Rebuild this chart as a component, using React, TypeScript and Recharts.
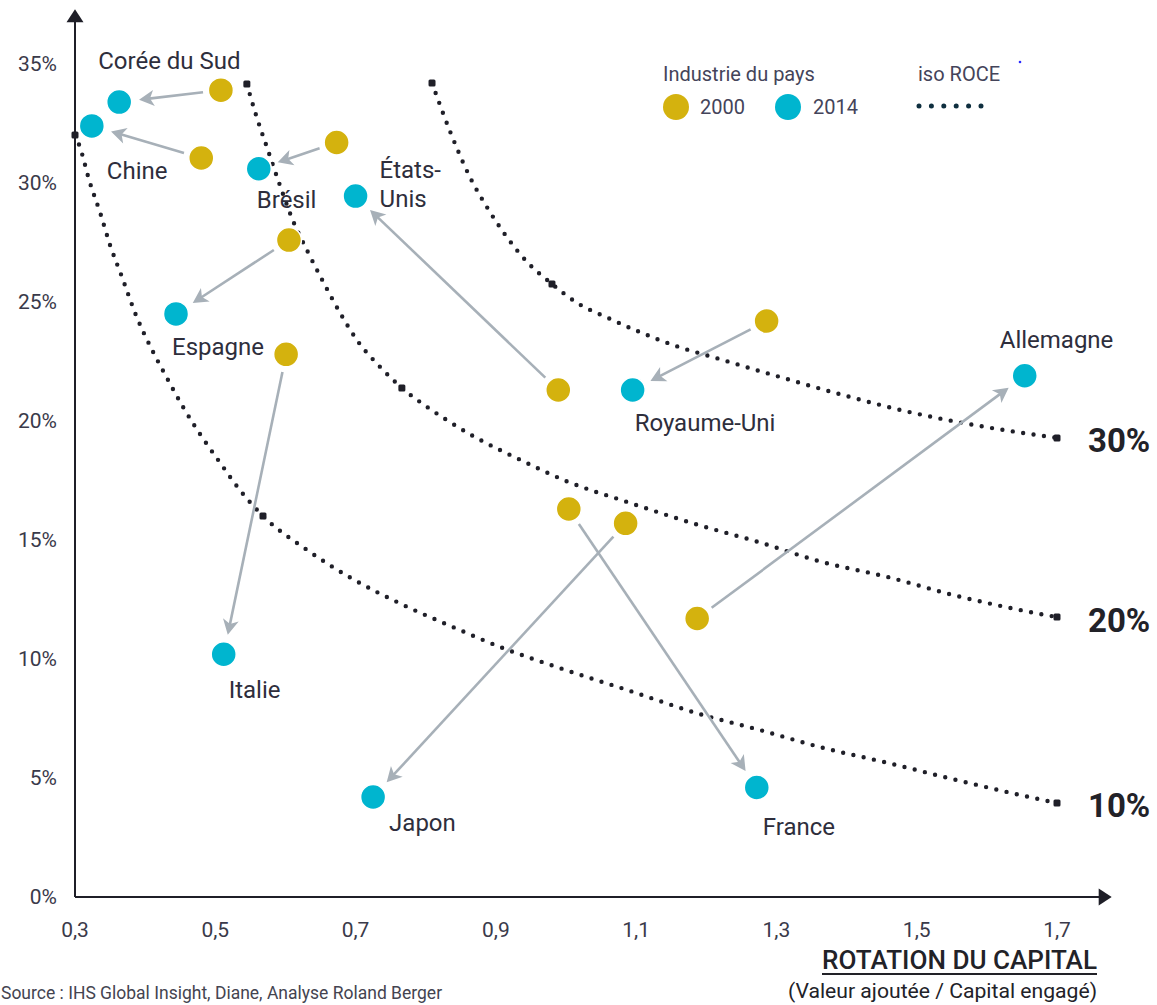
import React from 'react';
import { ComposedChart, XAxis, YAxis, Scatter, Line, ReferenceLine } from 'recharts';

// ---------- data ----------
const countries = ['Corée du Sud', 'Chine', 'Brésil', 'États-Unis', 'Espagne', 'Italie', 'Royaume-Uni', 'Japon', 'France', 'Allemagne'];
const rotation2000 = [0.508, 0.480, 0.673, 0.989, 0.605, 0.601, 1.286, 1.085, 1.004, 1.187];
const margin2000 = [33.9, 31.05, 31.7, 21.3, 27.6, 22.8, 24.2, 15.7, 16.3, 11.7];
const rotation2014 = [0.363, 0.324, 0.562, 0.700, 0.444, 0.512, 1.095, 0.725, 1.272, 1.654];
const margin2014 = [33.4, 32.4, 30.6, 29.45, 24.5, 10.2, 21.3, 4.2, 4.6, 21.9];

const xTicks = [0.3, 0.5, 0.7, 0.9, 1.1, 1.3, 1.5, 1.7];
const yTicks = [0, 5, 10, 15, 20, 25, 30, 35];
const isoLevels = ['10%', '20%', '30%'];

const iso10 = [[0.300, 32.02], [0.307, 31.51], [0.321, 30.04], [0.336, 28.74], [0.350, 27.39], [0.367, 26.05], [0.388, 24.37], [0.410, 22.98], [0.431, 21.81], [0.454, 20.59], [0.481, 19.33], [0.507, 18.24], [0.535, 17.10], [0.568, 16.01], [0.631, 14.58], [0.696, 13.36], [0.768, 12.27], [0.839, 11.34], [0.910, 10.46], [0.987, 9.66], [1.087, 8.70], [1.195, 7.65], [1.276, 7.02], [1.362, 6.30], [1.458, 5.64], [1.552, 4.95], [1.647, 4.29], [1.700, 3.95]];
const iso20 = [[0.545, 34.16], [0.559, 32.77], [0.574, 31.47], [0.589, 30.17], [0.611, 28.4], [0.632, 27.1], [0.654, 25.84], [0.678, 24.54], [0.702, 23.4], [0.735, 22.27], [0.766, 21.39], [0.802, 20.59], [0.830, 20.04], [0.870, 19.33], [0.934, 18.38], [1.000, 17.48], [1.087, 16.6], [1.181, 15.7], [1.276, 14.9], [1.362, 14.1], [1.458, 13.45], [1.552, 12.69], [1.647, 12.06], [1.700, 11.76]];
const iso30 = [[0.809, 34.2], [0.837, 32.0], [0.863, 30.25], [0.887, 29.0], [0.914, 27.8], [0.944, 26.7], [0.980, 25.76], [1.016, 24.96], [1.060, 24.33], [1.105, 23.74], [1.162, 23.1], [1.209, 22.69], [1.305, 21.85], [1.400, 21.05], [1.495, 20.34], [1.590, 19.79], [1.700, 19.29]];
const isoAnchors = [[0.300, 32.02], [0.568, 16.01], [1.700, 3.95], [0.545, 34.16], [0.766, 21.39], [1.700, 11.76], [0.809, 34.2], [0.980, 25.76], [1.700, 19.29]];

// ---------- derived tables ----------
const pts2000 = countries.map((name, i) => ({ name, x: rotation2000[i], y: margin2000[i] }));
const pts2014 = countries.map((name, i) => ({ name, x: rotation2014[i], y: margin2014[i] }));
const toXY = (arr: number[][]) => arr.map(([x, y]) => ({ x, y }));
const isoSeries = [iso10, iso20, iso30].map(toXY);
const anchorPts = toXY(isoAnchors);
const isoEnds = isoSeries.map((s, i) => ({ ...s[s.length - 1], level: isoLevels[i] }));

// ---------- styles ----------
const GOLD = '#d4b20e';
const CYAN = '#00b5cf';
const ARROW = '#a7b0b8';
const INK = '#1f1f28';
const TEXT = '#2e2e3c';
const FONT = 'Roboto';

const labelStyle: Record<string, { dx: number; dy: number; wrap?: boolean }> = {
  'Corée du Sud': { dx: -21, dy: -41 },
  'Chine': { dx: 15, dy: 45 },
  'Brésil': { dx: -2, dy: 31 },
  'États-Unis': { dx: 24, dy: -26, wrap: true },
  'Espagne': { dx: -4, dy: 33 },
  'Italie': { dx: 5, dy: 36 },
  'Royaume-Uni': { dx: 2, dy: 33 },
  'Japon': { dx: 16, dy: 26 },
  'France': { dx: 6, dy: 39 },
  'Allemagne': { dx: -25, dy: -36 },
};

const makeArrow = (gapStart: number, gapEnd: number, color: string, width: number, headLen: number, headHalf: number, notch: number) =>
  (p: any) => {
    const { x1, y1, x2, y2 } = p;
    if ([x1, y1, x2, y2].some((v) => typeof v !== 'number' || isNaN(v))) return <g />;
    const dx = x2 - x1;
    const dy = y2 - y1;
    const L = Math.hypot(dx, dy) || 1;
    const ux = dx / L;
    const uy = dy / L;
    const sx = x1 + ux * gapStart;
    const sy = y1 + uy * gapStart;
    const tx = x2 - ux * gapEnd;
    const ty = y2 - uy * gapEnd;
    const bx = tx - ux * headLen;
    const by = ty - uy * headLen;
    const nx = -uy;
    const ny = ux;
    const kx = bx + ux * notch;
    const ky = by + uy * notch;
    return (
      <g>
        <line x1={sx} y1={sy} x2={kx + ux * 1} y2={ky + uy * 1} stroke={color} strokeWidth={width} />
        <polygon
          points={`${tx},${ty} ${bx + nx * headHalf},${by + ny * headHalf} ${kx},${ky} ${bx - nx * headHalf},${by - ny * headHalf}`}
          fill={color}
        />
      </g>
    );
  };

const countryArrow = makeArrow(18, 20, ARROW, 2.6, 15, 8, 4);
const axisArrow = makeArrow(0, 0, INK, 2, 13, 8.5, 0);

const Dot2000 = (p: any) => (
  <circle cx={p.cx} cy={p.cy} r={12.5} fill={GOLD} stroke="#ffffff" strokeWidth={1.5} />
);

const Dot2014 = (p: any) => {
  const name = p.payload?.name as string;
  const st = labelStyle[name] || { dx: 0, dy: 30 };
  const lines = st.wrap ? [name.slice(0, name.indexOf('-') + 1), name.slice(name.indexOf('-') + 1)] : [name];
  return (
    <g>
      <circle cx={p.cx} cy={p.cy} r={12.5} fill={CYAN} stroke="#ffffff" strokeWidth={1.5} />
      {lines.map((t, k) => (
        <text
          key={k}
          x={p.cx + st.dx}
          y={p.cy + st.dy + k * 29}
          fontFamily={FONT}
          fontSize={24}
          fill={TEXT}
          dominantBaseline="central"
        >
          {t}
        </text>
      ))}
    </g>
  );
};

const AnchorMark = (p: any) => (
  <rect x={p.cx - 3.5} y={p.cy - 3.5} width={7} height={7} rx={1.5} fill={INK} />
);

const IsoLabel = (p: any) => (
  <text
    x={p.cx + 31}
    y={p.cy + 3}
    fontFamily={FONT}
    fontSize={33}
    fontWeight={700}
    fill="#222228"
    dominantBaseline="central"
  >
    {p.payload?.level}
  </text>
);

const fmtX = (v: number) => v.toFixed(1).replace('.', ',');
const fmtY = (v: number) => `${v}%`;

export default function App() {
  return (
    <div style={{ position: 'absolute', left: 0, top: 0, width: 1157, height: 1005, background: '#ffffff', overflow: 'hidden' }}>
      <ComposedChart
        width={1157}
        height={1005}
        margin={{ top: 64, right: 100, bottom: 78, left: 15 }}
        style={{ fontFamily: FONT, overflow: 'visible' }}
      >
        <XAxis
          type="number"
          dataKey="x"
          domain={[0.3, 1.7]}
          ticks={xTicks}
          tickFormatter={fmtX}
          axisLine={false}
          tickLine={false}
          tickMargin={19}
          height={30}
          tick={{ fontSize: 21, fill: '#3a3a4a', fontFamily: FONT }}
        />
        <YAxis
          type="number"
          dataKey="y"
          domain={[0, 35]}
          ticks={yTicks}
          tickFormatter={fmtY}
          axisLine={false}
          tickLine={false}
          tickMargin={12}
          width={60}
          tick={{ fontSize: 21, fill: '#3a3a4a', fontFamily: FONT }}
        />

        <ReferenceLine segment={[{ x: 0.3, y: 0 }, { x: 0.3, y: 37.3 }]} ifOverflow="visible" shape={axisArrow} />
        <ReferenceLine segment={[{ x: 0.3, y: 0 }, { x: 1.778, y: 0 }]} ifOverflow="visible" shape={axisArrow} />

        {isoSeries.map((data, i) => (
          <Line
            key={`iso${i}`}
            data={data}
            dataKey="y"
            type="monotone"
            stroke={INK}
            strokeWidth={4.4}
            strokeDasharray="0 10.5"
            strokeLinecap="round"
            dot={false}
            activeDot={false}
            isAnimationActive={false}
            legendType="none"
          />
        ))}
        <Scatter data={anchorPts} dataKey="y" shape={AnchorMark} isAnimationActive={false} />
        <Scatter data={isoEnds} dataKey="y" shape={IsoLabel} isAnimationActive={false} />

        {countries.map((c, i) => (
          <ReferenceLine
            key={`arr${i}`}
            segment={[{ x: rotation2000[i], y: margin2000[i] }, { x: rotation2014[i], y: margin2014[i] }]}
            shape={countryArrow}
          />
        ))}

        <Scatter data={pts2000} dataKey="y" shape={Dot2000} isAnimationActive={false} />
        <Scatter data={pts2014} dataKey="y" shape={Dot2014} isAnimationActive={false} />
      </ComposedChart>

      <svg
        width={1157}
        height={1005}
        style={{ position: 'absolute', left: 0, top: 0, pointerEvents: 'none' }}
        fontFamily={FONT}
      >
        <text x={663} y={74} fontSize={20} fill="#44445a" dominantBaseline="central">Industrie du pays</text>
        <circle cx={676} cy={107} r={13} fill={GOLD} />
        <text x={700} y={107} fontSize={20} fill="#44445a" dominantBaseline="central">2000</text>
        <circle cx={788} cy={107} r={13} fill={CYAN} />
        <text x={813} y={107} fontSize={20} fill="#44445a" dominantBaseline="central">2014</text>
        <text x={918} y={74} fontSize={20} fill="#44445a" dominantBaseline="central">iso ROCE</text>
        <line x1={919} y1={106} x2={981} y2={106} stroke="#0f2f3f" strokeWidth={5} strokeDasharray="0 12.4" strokeLinecap="round" />
        <circle cx={1020} cy={62} r={1.3} fill="#2a2aff" />

        <text x={1097} y={960} fontSize={26} fontWeight={500} fill="#222228" textAnchor="end" dominantBaseline="central" textLength={275} lengthAdjust="spacingAndGlyphs">ROTATION DU CAPITAL</text>
        <line x1={822} y1={974} x2={1097} y2={974} stroke="#222228" strokeWidth={2} />
        <text x={1097} y={991} fontSize={20} fill="#222228" textAnchor="end" dominantBaseline="central" textLength={309} lengthAdjust="spacingAndGlyphs">(Valeur ajoutée / Capital engagé)</text>
        <text x={1} y={993} fontSize={17.5} fill="#444450" dominantBaseline="central">Source : IHS Global Insight, Diane, Analyse Roland Berger</text>
      </svg>
    </div>
  );
}
